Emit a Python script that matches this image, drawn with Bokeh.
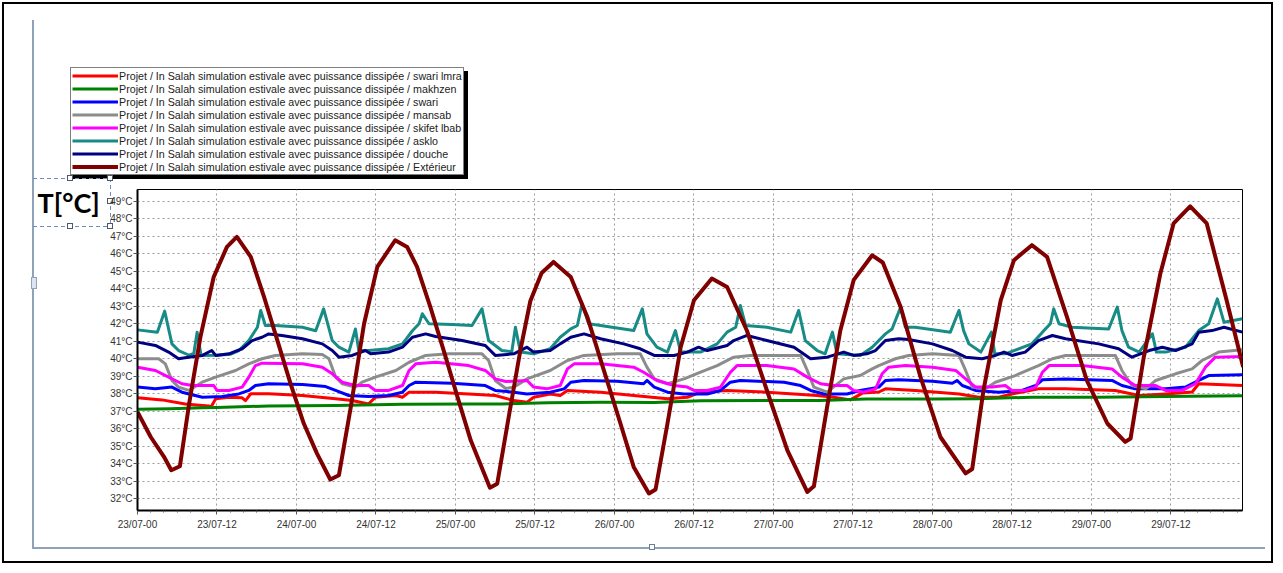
from bokeh.plotting import figure
from bokeh.models import Range1d, FixedTicker, Legend, LegendItem, Label
from bokeh.layouts import column, row
from bokeh.embed import file_html
from bokeh.resources import INLINE

# ---------------- data (hours since 23/07 00:00, temperature in °C) ----------------
x_ticks = [0, 12, 24, 36, 48, 60, 72, 84, 96, 108, 120, 132, 144, 156]
x_labels = ["23/07-00", "23/07-12", "24/07-00", "24/07-12", "25/07-00", "25/07-12",
            "26/07-00", "26/07-12", "27/07-00", "27/07-12", "28/07-00", "28/07-12",
            "29/07-00", "29/07-12"]
x_minor = [h for h in range(0, 168, 2)]
y_ticks = [32, 33, 34, 35, 36, 37, 38, 39, 40, 41, 42, 43, 44, 45, 46, 47, 48, 49]
y_labels = ["32°C", "33°C", "34°C", "35°C", "36°C", "37°C", "38°C", "39°C", "40°C",
            "41°C", "42°C", "43°C", "44°C", "45°C", "46°C", "47°C", "48°C", "49°C"]
y_title = "T[°C]"

prefix = "Projet / In Salah simulation estivale avec puissance dissipée / "
series_names = ["swari lmra", "makhzen", "swari", "mansab", "skifet lbab", "asklo", "douche", "Extérieur"]

swari_lmra = [(0, 37.77), (3.7, 37.65), (7.2, 37.42), (9.8, 37.33), (10.8, 37.3), (11.1, 37.25),
              (11.8, 37.71), (13.8, 37.8), (15.8, 37.77), (16.3, 37.61), (17.1, 38.0), (19.8, 38.0),
              (24.9, 37.9), (29.9, 37.71), (32.4, 37.61), (34.9, 37.42), (35.9, 37.8), (39.0, 37.9),
              (40.0, 37.8), (41.0, 38.09), (45.0, 38.09), (50.0, 37.99), (54.0, 37.9), (56.8, 37.61),
              (58.8, 37.52), (59.8, 37.8), (62.3, 37.99), (63.8, 37.9), (64.9, 38.19), (69.9, 38.09),
              (74.9, 37.9), (80.0, 37.71), (83.0, 37.8), (85.0, 38.09), (89.0, 38.19), (95.0, 38.09),
              (102.6, 37.9), (105.1, 37.8), (107.6, 37.65), (109.5, 38.05), (111.9, 38.1), (112.9, 38.28),
              (117.4, 38.19), (124.0, 37.99), (127.0, 37.8), (130.0, 37.8), (132.0, 37.99), (136.0, 38.28),
              (140.1, 38.28), (147.6, 38.19), (151.2, 37.9), (155.2, 37.99), (159.2, 38.1), (160.2, 38.57),
              (166.8, 38.47)]

makhzen = [(0, 37.12), (5, 37.15), (9.8, 37.2), (12, 37.22), (19.8, 37.3), (29.9, 37.33), (40, 37.4),
           (50, 37.42), (55, 37.42), (62, 37.48), (69.9, 37.52), (78, 37.5), (85, 37.6), (95, 37.62),
           (103, 37.62), (110, 37.7), (120, 37.7), (127, 37.72), (135, 37.8), (145, 37.8), (155, 37.85),
           (166.8, 37.88)]

swari = [(0, 38.38), (2.7, 38.28), (5.2, 38.38), (6.7, 38.09), (9.8, 37.8), (12.8, 37.84), (15.3, 37.99),
         (16.8, 38.19), (17.8, 38.47), (19.8, 38.57), (24.9, 38.53), (28.4, 38.41), (29.9, 38.19),
         (31.9, 37.9), (34.9, 37.84), (37.9, 37.9), (40.0, 38.09), (41.0, 38.47), (42.0, 38.66),
         (47.5, 38.6), (52.5, 38.47), (54.0, 38.19), (56.8, 38.09), (58.8, 37.99), (62.3, 38.09),
         (64.4, 38.28), (65.4, 38.66), (67.4, 38.76), (72.4, 38.72), (76.4, 38.57), (76.9, 38.76),
         (78.0, 38.38), (80.0, 38.09), (82.5, 37.99), (86.0, 37.99), (88.0, 38.19), (89.5, 38.66),
         (91.0, 38.76), (97.6, 38.66), (100.1, 38.47), (101.6, 38.19), (103.6, 37.99), (107.1, 37.99),
         (109.1, 38.19), (111.9, 38.38), (112.9, 38.76), (114.9, 38.8), (120.0, 38.72), (123.0, 38.6),
         (123.7, 38.76), (124.5, 38.47), (126.5, 38.19), (130.0, 38.09), (133.5, 38.19), (135.6, 38.47),
         (136.6, 38.8), (140.1, 38.85), (147.1, 38.76), (148.6, 38.47), (150.6, 38.28), (155.2, 38.28),
         (158.2, 38.38), (160.2, 38.76), (161.7, 39.04), (166.8, 39.08)]

mansab = [(0, 40.0), (3.2, 40.0), (4.2, 39.71), (5.2, 38.76), (6.2, 38.38), (7.75, 38.19), (9.76, 38.66),
          (11.8, 38.95), (14.8, 39.33), (16.8, 39.71), (18.8, 40.0), (20.8, 40.19), (24.9, 40.28),
          (27.9, 40.24), (28.9, 40.0), (29.9, 38.95), (30.9, 38.57), (32.9, 38.38), (33.9, 38.66),
          (35.9, 38.95), (39.0, 39.33), (41.0, 39.8), (43.5, 40.19), (47.0, 40.28), (52.0, 40.28),
          (53.0, 39.9), (54.0, 38.76), (55.6, 38.3), (56.8, 38.38), (58.8, 38.85), (62.3, 39.33),
          (64.9, 39.9), (67.4, 40.19), (72.4, 40.28), (75.9, 40.28), (76.9, 39.52), (78.0, 38.85),
          (80.0, 38.57), (82.5, 38.85), (85.0, 39.23), (87.5, 39.61), (90.0, 40.09), (92.5, 40.19),
          (100.1, 40.19), (101.1, 39.33), (102.1, 38.38), (104.1, 38.09), (106.6, 38.85), (109.1, 39.04),
          (110.9, 39.42), (111.9, 39.61), (114.4, 40.0), (116.4, 40.19), (120.0, 40.28), (124.0, 40.19),
          (125.0, 39.33), (126.0, 38.38), (128.0, 38.28), (129.5, 38.66), (132.5, 39.04), (136.0, 39.61),
          (138.1, 40.0), (140.1, 40.19), (147.6, 40.19), (148.6, 39.33), (150.1, 38.47), (152.2, 38.28),
          (153.7, 38.76), (156.7, 39.14), (159.2, 39.42), (160.7, 39.9), (163.2, 40.38), (166.8, 40.51)]

skifet_lbab = [(0, 39.52), (2.7, 39.33), (4.7, 38.95), (6.7, 38.57), (8.3, 38.47), (11.5, 38.47),
               (12.0, 38.19), (13.8, 38.19), (15.8, 38.38), (16.8, 38.95), (17.8, 39.61), (18.8, 39.75),
               (24.9, 39.71), (27.9, 39.52), (29.4, 39.14), (30.9, 38.66), (32.9, 38.47), (34.9, 38.47),
               (35.9, 38.19), (37.9, 38.19), (40.0, 38.47), (41.0, 39.33), (42.0, 39.71), (45.0, 39.8),
               (50.0, 39.61), (52.5, 39.33), (54.0, 38.85), (55.6, 38.7), (58.8, 38.76), (59.8, 38.38),
               (61.8, 38.28), (63.8, 38.47), (64.9, 39.42), (65.9, 39.71), (69.9, 39.71), (74.9, 39.52),
               (76.4, 39.23), (78.4, 38.76), (81.0, 38.47), (83.0, 38.38), (84.0, 38.19), (86.0, 38.19),
               (88.0, 38.38), (89.5, 39.23), (90.5, 39.61), (95.0, 39.61), (99.1, 39.42), (101.1, 38.95),
               (103.1, 38.57), (105.1, 38.47), (107.1, 38.47), (108.1, 38.19), (109.6, 38.1), (111.4, 38.28),
               (112.4, 39.14), (113.4, 39.52), (115.9, 39.61), (120.0, 39.52), (123.5, 39.33), (125.0, 38.85),
               (126.5, 38.38), (129.0, 38.38), (131.0, 38.47), (132.0, 38.19), (134.0, 38.19), (135.6, 38.38),
               (136.6, 39.23), (137.6, 39.61), (142.6, 39.61), (147.1, 39.42), (148.6, 38.95), (150.6, 38.47),
               (153.7, 38.47), (155.2, 38.19), (157.7, 38.19), (159.7, 38.57), (161.2, 39.52), (162.7, 40.09),
               (166.8, 40.13)]

asklo = [(0, 41.65), (3.0, 41.52), (4.1, 42.72), (5.2, 40.85), (6.2, 40.47), (7.8, 40.2), (8.5, 40.3),
         (9.0, 41.52), (9.6, 40.19), (12.0, 40.2), (14.0, 40.25), (15.3, 40.47), (16.8, 41.04),
         (18.1, 41.8), (18.6, 42.76), (19.3, 41.9), (20.8, 41.9), (24.9, 41.8), (26.9, 41.6),
         (28.1, 42.85), (29.4, 41.04), (30.4, 40.66), (31.9, 40.38), (32.9, 41.7), (33.4, 40.47),
         (34.9, 40.47), (37.9, 40.57), (40.0, 40.85), (41.5, 41.6), (42.5, 42.0), (43.0, 42.57),
         (44.0, 42.0), (47.5, 41.95), (50.5, 41.9), (52.0, 42.85), (53.0, 41.04), (55.0, 40.47),
         (56.5, 40.4), (57.05, 41.8), (57.8, 40.38), (59.8, 40.28), (62.3, 40.57), (63.8, 41.23),
         (65.4, 41.71), (66.4, 41.9), (67.1, 43.14), (68.1, 42.0), (69.9, 41.9), (74.9, 41.61),
         (76.2, 42.85), (76.9, 41.42), (78.4, 40.66), (80.0, 40.38), (81.2, 41.61), (82.0, 40.38),
         (85.0, 40.38), (87.5, 40.85), (89.0, 41.52), (90.3, 41.8), (91.0, 43.04), (91.8, 41.9),
         (95.0, 41.8), (98.6, 41.52), (99.8, 42.76), (100.8, 41.04), (102.6, 40.47), (103.8, 40.28),
         (104.9, 41.52), (105.6, 40.28), (109.1, 40.19), (110.9, 40.66), (112.9, 41.42), (113.9, 41.7),
         (115.2, 42.95), (115.9, 41.8), (117.4, 41.8), (122.7, 41.52), (124.0, 42.76), (124.7, 41.61),
         (125.5, 40.85), (127.3, 40.38), (128.9, 41.52), (129.4, 40.28), (131.0, 40.28), (135.0, 40.85),
         (136.6, 41.52), (137.8, 42.0), (138.3, 42.85), (139.1, 42.0), (141.1, 41.8), (146.6, 41.7),
         (147.9, 42.95), (148.6, 41.61), (149.6, 40.66), (151.2, 40.38), (153.2, 41.43), (153.8, 40.38),
         (155.2, 40.38), (158.2, 40.66), (160.2, 41.61), (161.7, 42.0), (163.0, 43.42), (164.0, 42.09),
         (166.8, 42.28)]

douche = [(0, 40.95), (2.7, 40.76), (4.7, 40.38), (6.2, 40.0), (7.7, 40.09), (9.8, 40.19), (11.2, 40.47),
          (11.8, 40.19), (13.8, 40.28), (15.8, 40.57), (17.3, 41.04), (18.8, 41.23), (19.8, 41.42),
          (21.8, 41.33), (24.9, 41.14), (27.9, 40.85), (29.4, 40.47), (30.4, 40.09), (32.4, 40.19),
          (34.4, 40.47), (35.2, 40.28), (37.9, 40.38), (40.0, 40.66), (41.5, 41.23), (43.5, 41.42),
          (45.0, 41.27), (49.0, 41.04), (52.5, 40.76), (54.0, 40.19), (56.8, 40.28), (58.8, 40.66),
          (59.8, 40.38), (62.3, 40.47), (63.8, 40.85), (65.4, 41.23), (67.4, 41.42), (69.9, 41.14),
          (73.4, 40.85), (75.9, 40.57), (78.0, 40.19), (81.0, 40.19), (83.0, 40.38), (84.7, 40.66),
          (86.0, 40.47), (89.0, 40.76), (90.0, 41.04), (92.0, 41.33), (95.0, 41.04), (99.1, 40.66),
          (101.6, 40.0), (104.1, 40.09), (106.6, 40.38), (108.1, 40.19), (110.1, 40.28), (111.4, 40.47),
          (112.9, 41.04), (114.9, 41.14), (116.4, 41.1), (120.0, 40.85), (123.0, 40.47), (125.0, 40.09),
          (127.5, 40.0), (129.5, 40.19), (130.8, 40.38), (132.0, 40.19), (134.0, 40.38), (136.0, 41.04),
          (138.1, 41.33), (140.1, 41.14), (145.1, 40.85), (148.1, 40.57), (150.1, 40.09), (152.7, 40.47),
          (154.7, 40.66), (156.7, 40.47), (159.2, 40.85), (160.2, 41.52), (162.2, 41.61), (164.0, 41.8),
          (166.8, 41.52)]

exterieur = [(0, 36.96), (2.0, 35.53), (4.0, 34.4), (5.1, 33.63), (6.4, 33.86), (7.8, 37.44), (9.5, 41.25),
             (11.5, 44.67), (13.5, 46.39), (15.0, 46.96), (17.1, 45.82), (19.1, 43.53), (21.1, 41.06),
             (23.1, 38.58), (25.1, 36.3), (27.1, 34.58), (29.1, 33.1), (30.4, 33.34), (32.2, 37.25),
             (34.2, 42.0), (36.2, 45.25), (38.9, 46.77), (40.7, 46.39), (42.2, 45.25), (44.2, 42.96),
             (46.2, 40.49), (48.3, 37.82), (50.3, 35.34), (53.2, 32.63), (54.3, 32.86), (56.0, 36.6),
             (57.8, 40.5), (59.3, 43.3), (61.0, 44.9), (62.8, 45.53), (65.4, 44.67), (67.9, 42.39),
             (70.4, 39.34), (72.9, 36.3), (74.9, 33.82), (77.2, 32.3), (78.2, 32.53), (80.0, 36.3),
             (82.0, 40.67), (84.0, 43.34), (86.7, 44.58), (89.0, 44.1), (92.0, 41.6), (95.0, 38.2),
             (98.1, 34.77), (101.1, 32.39), (102.1, 32.71), (104.1, 37.25), (106.1, 41.63), (108.1, 44.49),
             (110.9, 45.91), (112.5, 45.5), (115.2, 42.96), (118.2, 38.95), (121.2, 35.53), (125.0, 33.45),
             (126.0, 33.7), (127.7, 38.2), (130.3, 43.34), (132.3, 45.63), (135.0, 46.49), (137.3, 45.82),
             (140.3, 42.39), (143.3, 38.77), (146.4, 36.3), (149.1, 35.25), (149.9, 35.44), (151.9, 40.1),
             (154.4, 44.87), (156.4, 47.73), (158.9, 48.71), (161.4, 47.73), (164.4, 43.34), (166.9, 39.53)]

series_data = [swari_lmra, makhzen, swari, mansab, skifet_lbab, asklo, douche, exterieur]
series_colors = ["#ff0000", "#008000", "#0000ff", "#8c8c8c", "#ff00ff", "#178b86", "#000080", "#800000"]
series_widths = [3, 3, 3, 3, 3, 3, 3, 4]

# ---------------- page decoration (CSS background behind transparent figure borders) ----------------
def rect(color, x, y, w, h):
    return f"linear-gradient({color},{color}) {x}px {y}px / {w}px {h}px no-repeat"


def hdash(color, x, y, w):
    return f"repeating-linear-gradient(to right,{color} 0 4px,transparent 4px 7px) {x}px {y}px / {w}px 1px no-repeat"


def vdash(color, x, y, h):
    return f"repeating-linear-gradient(to bottom,{color} 0 4px,transparent 4px 7px) {x}px {y}px / 1px {h}px no-repeat"


layers = []
for cx, cy in [(70, 178), (110, 178), (110, 201), (70, 226), (110, 226)]:
    layers.append(rect("#ffffff", cx - 2, cy - 2, 4, 4))
    layers.append(rect("#4a5a6a", cx - 3, cy - 3, 6, 6))
layers.append(rect("#dce6f2", 32, 278, 4, 10))
layers.append(rect("#8ea2ba", 31, 277, 6, 12))
layers.append(rect("#ffffff", 650, 545, 4, 4))
layers.append(rect("#6b7f99", 649, 544, 6, 6))
layers.append(hdash("#6d8fc0", 33, 178, 77))
layers.append(hdash("#6d8fc0", 33, 226, 77))
layers.append(vdash("#6d8fc0", 110, 178, 48))
layers.append(rect("#8ea2ba", 32, 20, 2, 528))
layers.append(rect("#8ea2ba", 32, 547, 1233, 2))
layers.append(rect("#000000", 73, 71, 395, 108))   # legend drop shadow
page_background = ", ".join(layers) + ", #ffffff"

TOP_H = 180
LEFT_W = 100
FRAME_BOTTOM = 510   # page y of the chart frame bottom

# ---------------- top strip: legend ----------------
top = figure(width=1275, height=TOP_H, title=None, x_axis_type=None, y_axis_type=None,
             x_range=Range1d(0, 166.8), y_range=Range1d(100, 101),
             output_backend="svg", toolbar_location=None,
             min_border_left=0, min_border_right=0, min_border_top=0, min_border_bottom=0)
top.background_fill_alpha = 0
top.border_fill_alpha = 0
top.outline_line_color = None

legend_renderers = []
for data, color, w in zip(series_data, series_colors, series_widths):
    r = top.line([d[0] for d in data], [d[1] for d in data], line_color=color, line_width=w)
    legend_renderers.append(r)

legend = Legend(items=[LegendItem(label=prefix + n, renderers=[r]) for n, r in zip(series_names, legend_renderers)],
                location=(70, TOP_H - 175), orientation="vertical",
                label_text_font="Liberation Sans", label_text_font_size="10.7px", label_text_color="#222222",
                glyph_width=46, glyph_height=13, label_height=13, label_standoff=1,
                spacing=0, padding=1, margin=0,
                border_line_color="#000000", border_line_width=1,
                background_fill_color="white", background_fill_alpha=1)
top.add_layout(legend)

# ---------------- left strip: axis title ----------------
left = figure(width=LEFT_W, height=565 - TOP_H, title=None, x_axis_type=None, y_axis_type=None,
              x_range=Range1d(0, 1), y_range=Range1d(0, 1),
              output_backend="svg", toolbar_location=None,
              min_border_left=0, min_border_right=0, min_border_top=0, min_border_bottom=0)
left.background_fill_alpha = 0
left.border_fill_alpha = 0
left.outline_line_color = None
left.add_layout(Label(x=37, y=FRAME_BOTTOM - 202, x_units="screen", y_units="screen", text=y_title,
                      text_font="Lato", text_font_size="27px", text_font_style="bold",
                      text_color="#000000", text_baseline="alphabetic"))

# ---------------- main chart ----------------
p = figure(width=1275 - LEFT_W, height=565 - TOP_H, title=None,
           x_range=Range1d(0, 166.8), y_range=Range1d(31.33, 49.67),
           output_backend="svg", toolbar_location=None,
           min_border_left=137 - LEFT_W, min_border_right=33, min_border_top=189 - TOP_H,
           min_border_bottom=565 - FRAME_BOTTOM)
p.background_fill_color = "white"
p.border_fill_alpha = 0
p.outline_line_color = "#000000"
p.outline_line_width = 1

xt = FixedTicker(ticks=x_ticks, minor_ticks=x_minor)
yt = FixedTicker(ticks=y_ticks, minor_ticks=[])
p.xaxis.ticker = xt
p.yaxis.ticker = yt
p.xgrid.ticker = xt
p.ygrid.ticker = yt
p.xaxis.major_label_overrides = {t: l for t, l in zip(x_ticks, x_labels)}
p.yaxis.major_label_overrides = {t: l for t, l in zip(y_ticks, y_labels)}

for ax in (p.xaxis[0], p.yaxis[0]):
    ax.axis_line_color = "#000000"
    ax.axis_line_width = 2
    ax.major_tick_line_color = "#555555"
    ax.minor_tick_line_color = "#555555"
    ax.major_tick_in = 0
    ax.minor_tick_in = 0
    ax.major_label_text_font = "Liberation Sans"
    ax.major_label_text_font_size = "10px"
    ax.major_label_text_color = "#333333"
p.xaxis.major_tick_out = 4
p.xaxis.minor_tick_out = 2
p.xaxis.major_label_standoff = 4
p.yaxis.major_tick_out = 4
p.yaxis.major_label_standoff = 1

for g in (p.xgrid[0], p.ygrid[0]):
    g.grid_line_color = "#9a9a9a"
    g.grid_line_dash = "2 3"
    g.grid_line_width = 1

for data, color, w in zip(series_data, series_colors, series_widths):
    p.line([d[0] for d in data], [d[1] for d in data], line_color=color, line_width=w, line_join="round")

layout = column(top, row(left, p, spacing=0), spacing=0)
layout.styles = {"background": page_background, "outline": "2px solid #000000", "outline-offset": "-4px"}

open("out.html", "w").write(file_html(layout, INLINE))
